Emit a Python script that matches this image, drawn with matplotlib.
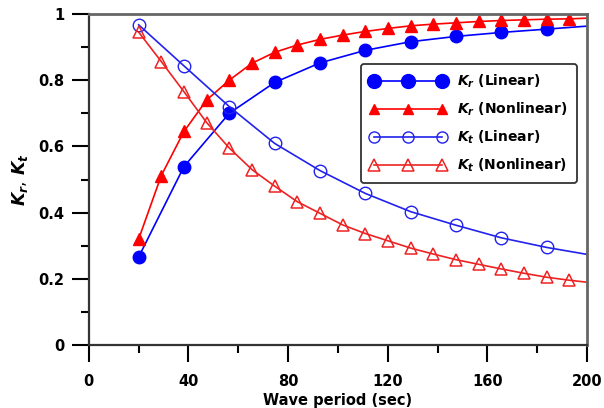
import matplotlib.pyplot as plt
from matplotlib.ticker import MultipleLocator, FuncFormatter

plt.rcParams['font.family'] = ['DejaVu Sans']
plt.rcParams['font.weight'] = 'bold'
plt.rcParams['mathtext.fontset'] = 'custom'
plt.rcParams['mathtext.it'] = 'DejaVu Sans:italic:bold'
plt.rcParams['mathtext.rm'] = 'DejaVu Sans:bold'

# wave period of each computed point (sec)
period_fine = [20, 29.1, 38.2, 47.3, 56.4, 65.5, 74.6, 83.7, 92.8, 101.9,
               111, 120.1, 129.2, 138.3, 147.4, 156.5, 165.6, 174.7, 183.8, 192.9, 200]
period_coarse = [20, 38.2, 56.4, 74.6, 92.8, 111, 129.2, 147.4, 165.6, 183.8, 200]

kr_linear = [0.266, 0.539, 0.70, 0.793, 0.852, 0.890, 0.916, 0.932, 0.944, 0.954, 0.963]
kr_nonlinear = [0.32, 0.512, 0.645, 0.74, 0.80, 0.851, 0.884, 0.906, 0.923, 0.936,
                0.947, 0.956, 0.964, 0.969, 0.973, 0.977, 0.980, 0.982, 0.984, 0.985, 0.987]
kt_linear = [0.967, 0.843, 0.72, 0.609, 0.527, 0.458, 0.403, 0.362, 0.324, 0.295, 0.274]
kt_nonlinear = [0.945, 0.856, 0.765, 0.672, 0.595, 0.53, 0.48, 0.433, 0.398, 0.363,
                0.337, 0.315, 0.293, 0.275, 0.258, 0.244, 0.23, 0.217, 0.205, 0.196, 0.19]

fig = plt.figure(figsize=(6.04, 4.08), dpi=100)
ax = fig.add_axes([0.147, 0.154, 0.825, 0.812])

# the last point (x=200) only carries the line to the frame, no marker
last_c = list(range(len(period_coarse) - 1))
last_f = list(range(len(period_fine) - 1))

ax.plot(period_coarse, kr_linear, color='#0000ff', lw=1.2, marker='o', ms=9,
        markevery=last_c, label=r'$K_r$ (Linear)')
ax.plot(period_fine, kr_nonlinear, color='#ff0000', lw=1.2, marker='^', ms=9,
        markevery=last_f, label=r'$K_r$ (Nonlinear)')
ax.plot(period_coarse, kt_linear, color='#2222ee', lw=1.2, marker='o', ms=9,
        mfc='none', mew=1.0, markevery=last_c, label=r'$K_t$ (Linear)')
ax.plot(period_fine, kt_nonlinear, color='#ee2222', lw=1.2, marker='^', ms=9,
        mfc='none', mew=1.1, markevery=last_f, label=r'$K_t$ (Nonlinear)')

ax.set_xlim(0, 200)
ax.set_ylim(0, 1)
ax.xaxis.set_major_locator(MultipleLocator(40))
ax.xaxis.set_minor_locator(MultipleLocator(20))
ax.yaxis.set_major_locator(MultipleLocator(0.2))
ax.yaxis.set_minor_locator(MultipleLocator(0.1))
ax.yaxis.set_major_formatter(FuncFormatter(lambda v, p: '%g' % round(v, 1)))

ax.tick_params(which='major', direction='out', length=12.5, width=1.5, labelsize=10.5)
ax.tick_params(axis='x', which='major', pad=8)
ax.tick_params(axis='y', which='major', pad=5)
ax.tick_params(which='minor', direction='out', length=6, width=1.5)
for side in ['left', 'bottom']:
    ax.spines[side].set_color('#333333')
    ax.spines[side].set_linewidth(1.6)
for side in ['top', 'right']:
    ax.spines[side].set_color('#666666')
    ax.spines[side].set_linewidth(2)

ax.set_xlabel('Wave period (sec)', fontsize=10.5, fontweight='bold', labelpad=3)
ax.set_ylabel(r'$K_r$, $K_t$', fontsize=12.5, labelpad=6)

leg = ax.legend(loc='upper left', bbox_to_anchor=(0.546, 0.849), borderaxespad=0,
                numpoints=3, handlelength=5.5, fontsize=10, fancybox=True,
                framealpha=1, edgecolor='#333333', borderpad=0.65, labelspacing=0.75,
                handletextpad=0.8)
leg.get_frame().set_linewidth(1.3)
for h, s in zip(leg.legend_handles, [10, 7, 8, 8]):
    h.set_markersize(s)

fig.savefig('out.png', dpi=100)
